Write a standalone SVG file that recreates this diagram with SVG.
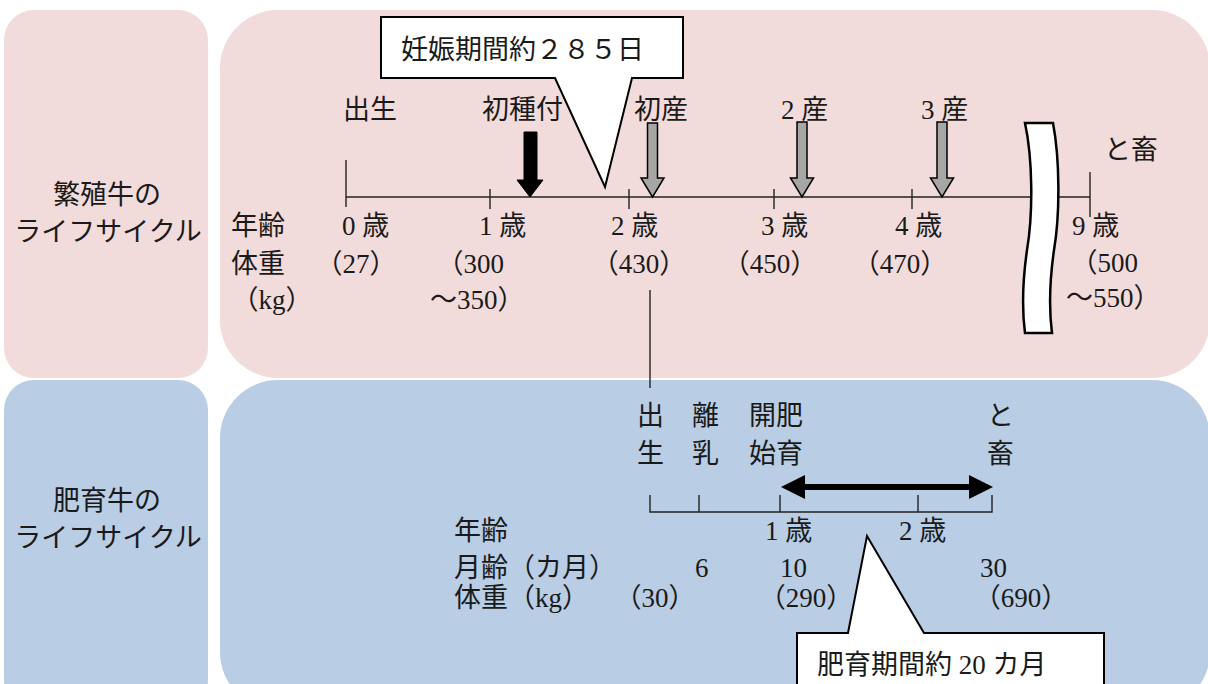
<svg xmlns="http://www.w3.org/2000/svg" width="1208" height="684" viewBox="0 0 1208 684">
<style>
text{font-family:"Liberation Serif","Noto Sans CJK JP",serif;font-size:27px;fill:#1a1a1a}
.c{text-anchor:middle}
.e{text-anchor:end}
.pink{fill:#F2DCDB}
.blue{fill:#B9CDE4}
.ln{stroke:#222;stroke-width:1.4;fill:none}
.callout{fill:#fff;stroke:#000;stroke-width:2;stroke-linejoin:miter}
.garrow{fill:#A6A6A6;stroke:#000;stroke-width:1.5}
</style>
<g id="panels">
<rect class="pink" x="4" y="10" width="204" height="368" rx="30"/>
<rect class="pink" x="220" y="10" width="990" height="368" rx="58"/>
<rect class="blue" x="4" y="380" width="204" height="330" rx="30"/>
<rect class="blue" x="220" y="380" width="990" height="330" rx="58"/>
</g>
<g id="label-breeding">
<text class="c" x="107" y="204">繁殖牛の</text>
<text class="c" x="108" y="241">ライフサイクル</text>
</g>
<g id="label-fattening">
<text class="c" x="107" y="510">肥育牛の</text>
<text class="c" x="108" y="547">ライフサイクル</text>
</g>
<g id="connectors">
<path class="ln" d="M346,197 H1090"/>
<path class="ln" d="M346,160 V207 M490,189 V209 M629,189 V209 M774,189 V209 M912,189 V209 M1090,172 V217"/>
<path class="ln" d="M650,290 V388"/>
<path class="ln" d="M650,495 V512 H992 V495 M699,495 V512 M780,495 V512 M918,495 V512"/>
</g>
<g id="break">
<path d="M1025,123 C1033,160 1033,215 1027,250 C1022,285 1022,310 1025,333 L1052,333 C1049,310 1049,285 1054,250 C1060,215 1060,160 1053,123 Z" fill="#fff" stroke="#000" stroke-width="2.5"/>
</g>
<g id="arrows">
<polygon points="524,132 537,132 537,180 543,180 530,197 517,180 524,180" fill="#000" stroke="#000" stroke-width="1"/>
<polygon class="garrow" points="647.5,123 657.5,123 657.5,178 664,178 652.5,197 641,178 647.5,178"/>
<polygon class="garrow" points="797,122 807,122 807,178 813.5,178 802,197 790.5,178 797,178"/>
<polygon class="garrow" points="937,122 947,122 947,178 953.5,178 942,197 930.5,178 937,178"/>
<path d="M800,487 H975" stroke="#000" stroke-width="6"/>
<polygon points="781,487 805,475 805,499" fill="#000"/>
<polygon points="993,487 969,475 969,499" fill="#000"/>
</g>
<g id="callout-gestation">
<path class="callout" d="M381,17 H683 V78 H632 L605,187 L555,78 H381 Z"/>
<text x="401" y="59">妊娠期間約２８５日</text>
</g>
<g id="callout-fattening">
<path class="callout" d="M797,692 V633 H848 L867,536 L924,633 H1104 V692"/>
<text x="817" y="674">肥育期間約 20 カ月</text>
</g>
<g id="breeding-events">
<text x="343" y="119">出生</text>
<text x="482" y="119">初種付</text>
<text x="634" y="119">初産</text>
<text x="781" y="119">2 産</text>
<text x="921" y="119">3 産</text>
<text x="1104" y="159">と畜</text>
</g>
<g id="breeding-age">
<text x="231" y="235">年齢</text>
<text x="342" y="235">0 歳</text>
<text x="479" y="235">1 歳</text>
<text x="611" y="235">2 歳</text>
<text x="761" y="235">3 歳</text>
<text x="895" y="235">4 歳</text>
<text x="1072" y="235">9 歳</text>
</g>
<g id="breeding-weight">
<text x="231" y="273">体重</text>
<text class="c" x="272" y="309">（kg）</text>
<text class="c" x="356" y="273">（27）</text>
<text class="e" x="504" y="273">（300</text>
<text x="430" y="309">～350）</text>
<text class="c" x="639" y="273">（430）</text>
<text class="c" x="770" y="273">（450）</text>
<text class="c" x="900" y="273">（470）</text>
<text class="e" x="1138" y="272">（500</text>
<text x="1066" y="307">～550）</text>
</g>
<g id="fattening-events">
<text x="637" y="425">出</text><text x="637" y="463">生</text>
<text x="692" y="425">離</text><text x="692" y="463">乳</text>
<text x="749" y="425">開肥</text><text x="749" y="463">始育</text>
<text x="987" y="425">と</text><text x="987" y="463">畜</text>
</g>
<g id="fattening-rows">
<text x="454" y="540">年齢</text>
<text x="765" y="540">1 歳</text>
<text x="899" y="540">2 歳</text>
<text x="454" y="577">月齢（カ月）</text>
<text x="695" y="577">6</text>
<text x="780" y="577">10</text>
<text x="980" y="577">30</text>
<text x="454" y="607">体重（kg）</text>
<text class="c" x="655" y="607">（30）</text>
<text class="c" x="806" y="607">（290）</text>
<text class="c" x="1021" y="607">（690）</text>
</g>
</svg>
